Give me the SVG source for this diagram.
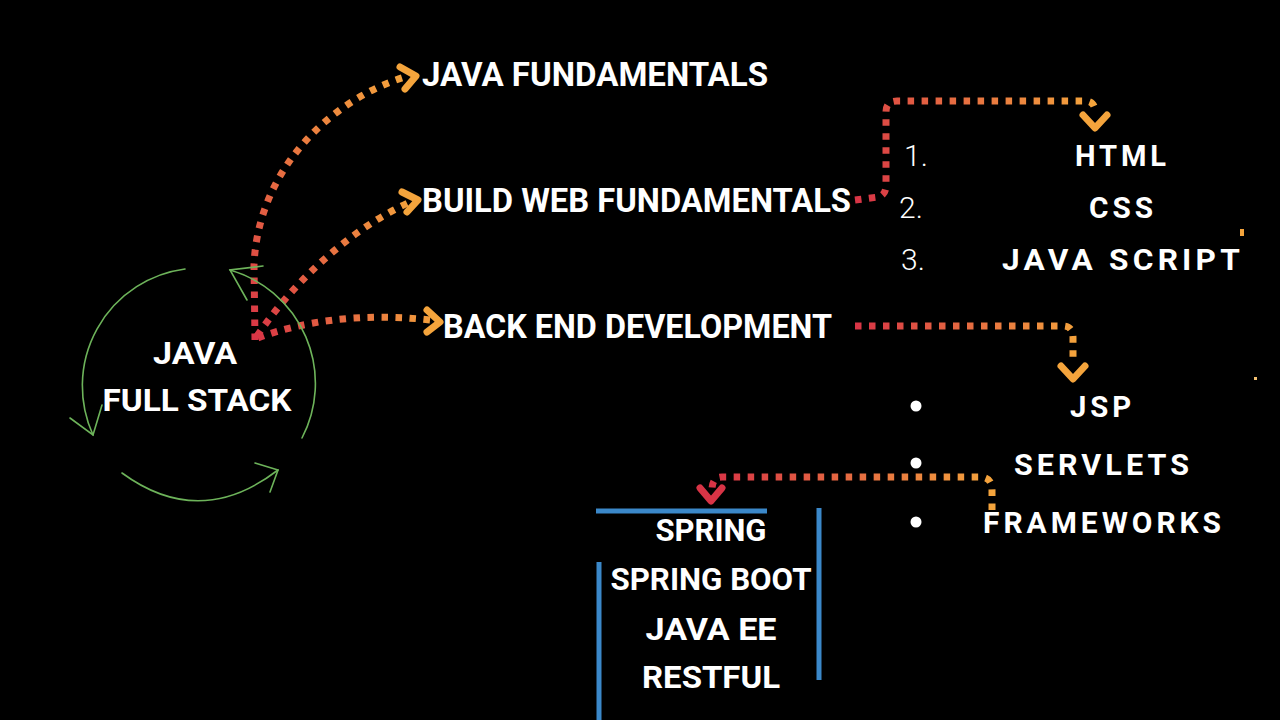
<svg xmlns="http://www.w3.org/2000/svg" width="1280" height="720" viewBox="0 0 1280 720">
<defs>
<style>
.t{font-family:"Roboto","Liberation Sans",sans-serif;font-weight:700;fill:#fff}
.ts{font-family:"Roboto","Liberation Sans",sans-serif;font-weight:700;fill:#fff;letter-spacing:4px}
.num{font-family:"Roboto","Liberation Sans",sans-serif;font-weight:300;fill:#fff}
.dot{fill:none;stroke-width:7;stroke-dasharray:6.5 7.5}
.head{fill:none;stroke-width:7;stroke-linecap:round;stroke-linejoin:round}
.g{fill:none;stroke:#6db35a;stroke-width:1.6;stroke-linecap:round}
.blue{stroke:#3b88c9;stroke-width:5;fill:none}
</style>
<linearGradient id="g1" gradientUnits="userSpaceOnUse" x1="255" y1="340" x2="410" y2="75"><stop offset="0" stop-color="#d83446"/><stop offset="1" stop-color="#f4a43c"/></linearGradient>
<linearGradient id="g2" gradientUnits="userSpaceOnUse" x1="255" y1="340" x2="415" y2="200"><stop offset="0" stop-color="#d83446"/><stop offset="1" stop-color="#f4a43c"/></linearGradient>
<linearGradient id="g3" gradientUnits="userSpaceOnUse" x1="255" y1="340" x2="440" y2="322"><stop offset="0" stop-color="#d83446"/><stop offset="1" stop-color="#f4a43c"/></linearGradient>
<linearGradient id="g4" gradientUnits="userSpaceOnUse" x1="855" y1="200" x2="1095" y2="110"><stop offset="0" stop-color="#d83446"/><stop offset="1" stop-color="#f4a43c"/></linearGradient>
<linearGradient id="g5" gradientUnits="userSpaceOnUse" x1="855" y1="326" x2="1073" y2="370"><stop offset="0" stop-color="#d83446"/><stop offset="1" stop-color="#f4a43c"/></linearGradient>
<linearGradient id="g6" gradientUnits="userSpaceOnUse" x1="992" y1="500" x2="712" y2="490"><stop offset="0" stop-color="#f4a43c"/><stop offset="1" stop-color="#d83446"/></linearGradient>
</defs>
<rect width="1280" height="720" fill="#000"/>

<g id="connectors">
<path class="dot" stroke="url(#g1)" d="M255,340 L254,265 C258,170 330,100 405,77"/>
<path class="head" stroke="#f4a43c" d="M400,67 L416,76 L405,89"/>
<path class="dot" stroke="url(#g2)" d="M257,336 C295,280 350,230 408,203"/>
<path class="head" stroke="#f4a43c" d="M402,192 L418,200 L407,212"/>
<path class="dot" stroke="url(#g3)" d="M258,338 C300,322 360,312 430,320"/>
<path class="head" stroke="#f4a43c" d="M427,310 L440,322 L427,332"/>
<path class="dot" stroke="url(#g4)" d="M855,200 L878,197 Q886,195 886,185 L886,112 Q886,101 897,101 L1085,101 Q1095,101 1095,112"/>
<path class="head" stroke="#f4a43c" d="M1083,115 L1095,128 L1107,115"/>
<path class="dot" stroke="url(#g5)" d="M855,326 L1063,326 Q1073,326 1073,338 L1073,362"/>
<path class="head" stroke="#f4a43c" d="M1061,366 L1073,379 L1085,366"/>
<path class="dot" stroke="url(#g6)" d="M992,510 L992,490 Q992,477 980,477 L722,477 Q712,477 712,490"/>
<path class="head" stroke="#d83446" d="M700,488 L711,501 L722,488"/>
<rect x="1240" y="229" width="4" height="7" fill="#f4a43c"/>
<rect x="1254" y="377" width="3" height="3" fill="#f4c070"/>
</g>

<g id="cycle">
<path class="g" d="M185,269 A118,118 0 0 0 93,435"/>
<path class="g" d="M70,418 L93,435 L102,405"/>
<path class="g" d="M230,270 A118,118 0 0 1 302,438"/>
<path class="g" d="M263,266 L230,270 L247,300"/>
<path class="g" d="M122,473 Q200,530 278,470"/>
<path class="g" d="M255,463 L278,470 L270,492"/>
</g>

<g id="node-java-full-stack">
<text class="t" x="195" y="364" font-size="31" text-anchor="middle" textLength="84" lengthAdjust="spacingAndGlyphs">JAVA</text>
<text class="t" x="197" y="411" font-size="31" text-anchor="middle" textLength="189" lengthAdjust="spacingAndGlyphs">FULL STACK</text>
</g>

<g id="node-java-fundamentals">
<text class="t" x="422" y="86" font-size="33" textLength="346" lengthAdjust="spacingAndGlyphs">JAVA FUNDAMENTALS</text>
</g>
<g id="node-build-web">
<text class="t" x="422" y="212" font-size="33" textLength="429" lengthAdjust="spacingAndGlyphs">BUILD WEB FUNDAMENTALS</text>
</g>
<g id="node-back-end">
<text class="t" x="443" y="338" font-size="33" textLength="389" lengthAdjust="spacingAndGlyphs">BACK END DEVELOPMENT</text>
</g>

<g id="node-web-list">
<text class="num" x="904" y="166" font-size="30">1.</text>
<text class="num" x="899" y="218" font-size="30">2.</text>
<text class="num" x="901" y="270" font-size="30">3.</text>
<text class="ts" x="1075" y="166" font-size="30" textLength="95" lengthAdjust="spacingAndGlyphs">HTML</text>
<text class="ts" x="1089" y="218" font-size="30" textLength="68" lengthAdjust="spacingAndGlyphs">CSS</text>
<text class="ts" x="1002" y="270" font-size="30" textLength="242" lengthAdjust="spacingAndGlyphs">JAVA SCRIPT</text>
</g>

<g id="node-backend-list">
<circle cx="916" cy="406" r="5.5" fill="#fff"/>
<circle cx="916" cy="463" r="5.5" fill="#fff"/>
<circle cx="916" cy="522" r="5.5" fill="#fff"/>
<text class="ts" x="1070" y="417" font-size="30" textLength="65" lengthAdjust="spacingAndGlyphs">JSP</text>
<text class="ts" x="1014" y="475" font-size="30" textLength="179" lengthAdjust="spacingAndGlyphs">SERVLETS</text>
<text class="ts" x="983" y="533" font-size="30" textLength="242" lengthAdjust="spacingAndGlyphs">FRAMEWORKS</text>
</g>

<g id="node-frameworks-box">
<line class="blue" x1="596" y1="511" x2="767" y2="511"/>
<line class="blue" x1="819" y1="508" x2="819" y2="680"/>
<line class="blue" x1="599" y1="562" x2="599" y2="720"/>
<text class="t" x="711" y="541" font-size="32" text-anchor="middle" textLength="111" lengthAdjust="spacingAndGlyphs">SPRING</text>
<text class="t" x="711" y="590" font-size="32" text-anchor="middle" textLength="201" lengthAdjust="spacingAndGlyphs">SPRING BOOT</text>
<text class="t" x="711" y="640" font-size="32" text-anchor="middle" textLength="131" lengthAdjust="spacingAndGlyphs">JAVA EE</text>
<text class="t" x="711" y="688" font-size="32" text-anchor="middle" textLength="138" lengthAdjust="spacingAndGlyphs">RESTFUL</text>
</g>
</svg>
